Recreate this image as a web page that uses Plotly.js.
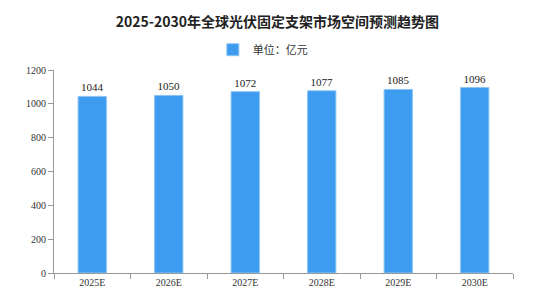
<!DOCTYPE html>
<html><head><meta charset="utf-8">
<script src="https://cdn.plot.ly/plotly-3.0.1.min.js"></script>
<style>html,body{margin:0;padding:0;background:#fff}</style>
</head><body><div id="chart" style="width:558px;height:300px"></div>
<script>
const categories = ["2025E","2026E","2027E","2028E","2029E","2030E"];
const values = [1044,1050,1072,1077,1085,1096];
const seriesName = "单位：亿元";
const titleText = "2025-2030年全球光伏固定支架市场空间预测趋势图";

const trace = {
  type: "bar", x: categories, y: values, name: seriesName,
  text: values.map(String), textposition: "outside",
  textfont: {family: "Liberation Serif, serif", size: 11, color: "#222"},
  marker: {color: "#3D9BF0", line: {color: "#8CC4F5", width: 1}},
  cliponaxis: false, showlegend: true
};
const layout = {
  width: 558, height: 300,
  margin: {l: 54, r: 45, t: 70, b: 27},
  paper_bgcolor: "#fff", plot_bgcolor: "#fff",
  title: {text: "<b>" + titleText + "</b>", x: 0.497, xanchor: "center", y: 0.927, yanchor: "middle",
    font: {family: "Noto Sans CJK SC, sans-serif", size: 14, color: "#222"}},
  showlegend: true,
  legend: {orientation: "h", x: 0.455, xanchor: "center", y: 1.1, yanchor: "middle",
    font: {family: "Noto Sans CJK SC, sans-serif", size: 11, color: "#333"}, itemwidth: 30},
  bargap: 0.63,
  xaxis: {type: "category", showline: true, linecolor: "#999", linewidth: 1,
    ticks: "outside", tickson: "boundaries", ticklen: 5, tickcolor: "#999",
    tickfont: {family: "Liberation Serif, serif", size: 10, color: "#333"}, showgrid: false},
  yaxis: {range: [0, 1200], dtick: 200, showline: true, linecolor: "#999", linewidth: 1,
    ticks: "outside", ticklen: 5, tickcolor: "#999", showgrid: false, zeroline: false,
    tickfont: {family: "Liberation Serif, serif", size: 10, color: "#333"}}
};
Plotly.newPlot("chart", [trace], layout, {displayModeBar: false, staticPlot: true});
</script></body></html>
